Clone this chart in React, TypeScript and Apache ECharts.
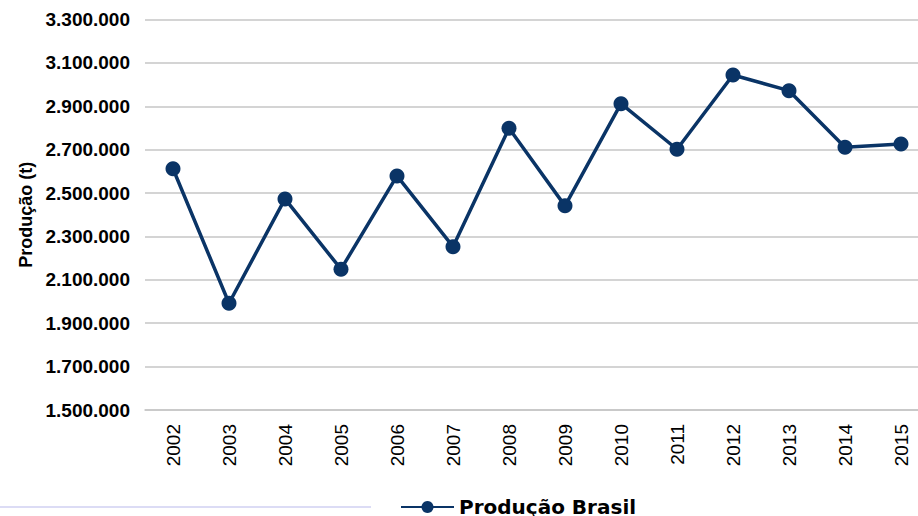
import React, { useEffect, useRef } from "react";
import * as echarts from "echarts";

const years = ["2002", "2003", "2004", "2005", "2006", "2007", "2008", "2009", "2010", "2011", "2012", "2013", "2014", "2015"];
const producao = [2612000, 1992000, 2473000, 2149000, 2579000, 2253000, 2799000, 2441000, 2912000, 2702000, 3044000, 2972000, 2711000, 2726000];
const seriesName = "Produção Brasil";
const yAxisTitle = "Produção (t)";

const FONT = "'Liberation Sans', Arial, sans-serif";
const NAVY = "#0a3466";

function fmt(v: number): string {
  return String(Math.round(v)).replace(/\B(?=(\d{3})+(?!\d))/g, ".");
}

export default function App() {
  const ref = useRef<HTMLDivElement>(null);
  useEffect(() => {
    if (!ref.current) return;
    const chart = echarts.init(ref.current, null, { renderer: "svg" });
    chart.setOption({
      animation: false,
      backgroundColor: "#ffffff",
      textStyle: { fontFamily: FONT },
      grid: {
        left: 145,
        top: 19.5,
        width: 784,
        height: 390.5,
        containLabel: false,
        outerBoundsMode: "none",
      },
      xAxis: {
        type: "category",
        data: years,
        boundaryGap: true,
        axisLine: { show: true, lineStyle: { color: "#c6c6c6", width: 1.5 } },
        axisTick: { show: false },
        axisLabel: { rotate: 90, margin: 14, color: "#000", fontSize: 19, fontFamily: FONT },
      },
      yAxis: {
        type: "value",
        min: 1500000,
        max: 3300000,
        interval: 200000,
        name: yAxisTitle,
        nameLocation: "middle",
        nameRotate: 90,
        nameGap: 108,
        nameTextStyle: { color: "#000", fontSize: 18, fontWeight: "bold", fontFamily: FONT },
        axisLine: { show: false },
        axisTick: { show: false },
        splitLine: { show: true, lineStyle: { color: "#c6c6c6", width: 1.5 } },
        axisLabel: {
          margin: 15,
          color: "#000",
          fontSize: 19,
          fontWeight: "bold",
          fontFamily: FONT,
          formatter: (v: number) => fmt(v),
        },
      },
      legend: {
        show: true,
        left: 400,
        top: 497,
        padding: 0,
        itemWidth: 53,
        itemHeight: 15,
        itemGap: 5,
        textStyle: { color: "#000", fontSize: 20, fontWeight: "bold", fontFamily: "'DejaVu Sans', sans-serif" },
        data: [seriesName],
      },
      graphic: [
        {
          type: "line",
          shape: { x1: 0, y1: 507, x2: 371, y2: 507 },
          style: { stroke: "#dcdcf5", lineWidth: 2 },
          silent: true,
        },
      ],
      series: [
        {
          name: seriesName,
          type: "line",
          data: producao,
          symbol: "circle",
          symbolSize: 15,
          itemStyle: { color: NAVY },
          lineStyle: { color: NAVY, width: 3.5 },
        },
      ],
    });
    return () => chart.dispose();
  }, []);
  return (
    <div
      ref={ref}
      style={{ position: "fixed", left: 0, top: 0, width: 918, height: 516, background: "#fff" }}
    />
  );
}
